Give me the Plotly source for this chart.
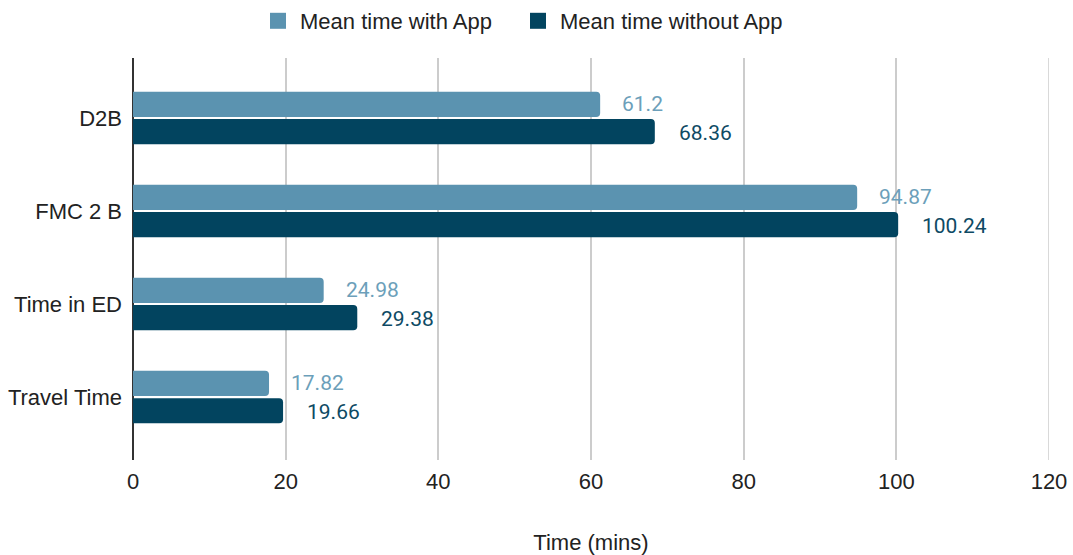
import plotly.graph_objects as go

categories = ["D2B", "FMC 2 B", "Time in ED", "Travel Time"]
with_app = [61.2, 94.87, 24.98, 17.82]
without_app = [68.36, 100.24, 29.38, 19.66]
x_ticks = [0, 20, 40, 60, 80, 100, 120]
series_names = ["Mean time with App", "Mean time without App"]

LIGHT = "#5b93b0"
DARK = "#02445f"
TEXT = "#222222"
GRID = "#cccccc"

fig = go.Figure()
for name, vals, col in [(series_names[0], with_app, LIGHT), (series_names[1], without_app, DARK)]:
    fig.add_trace(go.Bar(
        y=categories, x=vals, orientation="h", name=name, showlegend=False,
        marker=dict(color=col, line=dict(width=0)),
    ))
# legend entries with larger square swatches, one legend box per series
for name, col, lg in [(series_names[0], LIGHT, "legend"), (series_names[1], DARK, "legend2")]:
    fig.add_trace(go.Scatter(
        x=[None], y=[None], mode="markers", name=name, legend=lg,
        marker=dict(symbol="square", size=20, color=col),
    ))

# value labels beside each bar end
for i, cat in enumerate(categories):
    fig.add_annotation(x=with_app[i], y=i, yshift=14, xshift=20, text=f"{with_app[i]:g}",
                       xanchor="left", yanchor="middle", showarrow=False,
                       font=dict(family="Roboto", size=21, color="#6c9fba"))
    fig.add_annotation(x=without_app[i], y=i, yshift=-15, xshift=22, text=f"{without_app[i]:g}",
                       xanchor="left", yanchor="middle", showarrow=False,
                       font=dict(family="Roboto", size=21, color="#0e4a64"))

# gridline at the far end of the axis (range edge)
fig.add_shape(type="line", xref="x", yref="paper", x0=x_ticks[-1], x1=x_ticks[-1],
              y0=0, y1=1, line=dict(color=GRID, width=1.5), layer="below")

legend_style = dict(orientation="h", xanchor="left", xref="container",
                    y=1.0, yanchor="top", yref="container", itemwidth=34,
                    font=dict(size=22, color=TEXT))

fig.update_layout(
    width=1073, height=555,
    margin=dict(l=133, r=24, t=58, b=95, autoexpand=False),
    paper_bgcolor="white", plot_bgcolor="white",
    barmode="group", bargap=0.41, bargroupgap=0.08, barcornerradius=4,
    font=dict(family="Liberation Sans, Arial", size=22, color=TEXT),
    legend=dict(x=256 / 1073, **legend_style),
    legend2=dict(x=516 / 1073, **legend_style),
    showlegend=True,
)
fig.update_xaxes(
    range=[0, 120], tickvals=x_ticks, ticktext=[str(v) for v in x_ticks],
    showgrid=True, gridcolor=GRID, gridwidth=1.5,
    zeroline=True, zerolinecolor="#333333", zerolinewidth=1.5,
    showline=False, ticks="", ticklabelstandoff=6, automargin=False,
    title=dict(text="Time (mins)", standoff=46, font=dict(size=22)),
)
fig.update_yaxes(
    type="category", categoryorder="array", categoryarray=categories,
    range=[3.677, -0.645], showgrid=False, zeroline=False, showline=False,
    ticks="", ticklabelstandoff=10, automargin=False,
)

fig.write_html("out.html")
